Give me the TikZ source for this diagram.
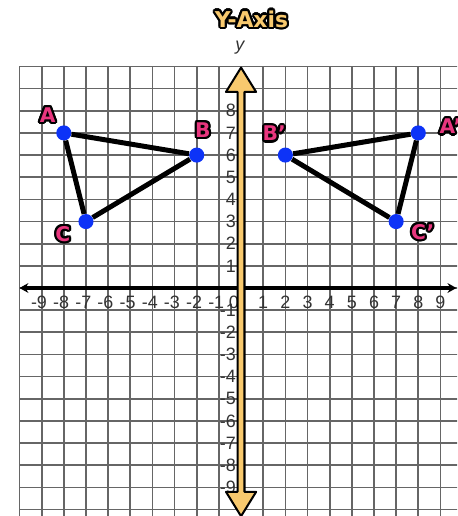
\documentclass[tikz,border=0pt]{standalone}
\usepackage{fontspec}
\setmainfont{Liberation Sans}
\newfontfamily\roundfont{DejaVu Sans}
\usetikzlibrary{arrows.meta}
\definecolor{GridGray}{HTML}{666666}
\definecolor{TickInk}{HTML}{333333}
\definecolor{AxisGold}{HTML}{F8C96E}
\definecolor{HotPink}{HTML}{E8367E}
\definecolor{DotBlue}{HTML}{0D33F7}
\newcommand\haloed[3][1.1pt]{\foreach \ang in {0,22.5,...,337.5}{\pgfmathsetlengthmacro\hdx{#1*cos(\ang)}\pgfmathsetlengthmacro\hdy{#1*sin(\ang)}\rlap{\hspace*{\hdx}\raisebox{\hdy}{\color{black}#3}}}{\color{#2}#3}}
\tikzset{gridline/.style={draw=GridGray,line width=1.1pt},tick/.style={text=TickInk,font=\fontsize{11.5}{13}\selectfont,inner sep=0pt},vertex/.style={circle,fill=DotBlue,minimum size=0.34cm,inner sep=0pt},side/.style={draw=black,line width=3.2pt},ptlabel/.style={font=\roundfont\bfseries\fontsize{13}{15}\selectfont,inner sep=0pt},xaxisline/.style={draw=black,line width=2pt,{Stealth[length=2mm,width=2.2mm]}-{Stealth[length=2mm,width=2.2mm]}},yaxisbody/.style={fill=AxisGold,draw=black,line width=1.3pt,line join=round}}

\begin{document}
\begin{tikzpicture}[x=0.5cm,y=0.5cm]
\useasboundingbox (-10.88,-10.29) rectangle (9.75,13.0);
\clip (-10.88,-10.29) rectangle (9.75,13.0);
\fill[white] (-10.88,-10.29) rectangle (9.75,13.0);
\draw[gridline,step=1] (-10,-11) grid (10,10);
\node[font=\roundfont\bfseries\fontsize{14}{16}\selectfont,inner sep=0pt] (title) at (0.47,12.14) {\haloed[1.4pt]{AxisGold}{Y-Axis}};
\node[font=\itshape\fontsize{11.5}{13}\selectfont,text=TickInk,inner sep=0pt] (ylab) at (-0.05,10.85) {y};
% tick labels
\foreach \k in {1,...,9} \node[tick] (xp\k) at (\k,-0.66) {\k};
\foreach \k in {1,...,9} \node[tick] (xm\k) at ({-\k-0.12},-0.66) {-\k};
\node[tick] (xz) at (-0.32,-0.66) {0};
\foreach \k in {1,...,8} \node[tick,anchor=east] (yp\k) at (-0.22,\k) {\k};
\foreach \k in {1,...,9} \node[tick,anchor=east] (ym\k) at (-0.22,-\k) {-\k};
% axes
\coordinate (xl) at (-10,0);\coordinate (xr) at (9.72,0);
\draw[xaxisline] (xl) -- (xr);
\draw[yaxisbody] (0,9.95)--(0.68,8.85)--(0.155,8.85)--(0.155,-9.2)--(0.68,-9.2)--(0,-10.3)--(-0.68,-9.2)--(-0.155,-9.2)--(-0.155,8.85)--(-0.68,8.85)--cycle;
% triangles
\node[vertex] (A) at (-8,7) {};\node[vertex] (B) at (-2,6) {};\node[vertex] (C) at (-7,3) {};
\node[vertex] (Ap) at (8,7) {};\node[vertex] (Bp) at (2,6) {};\node[vertex] (Cp) at (7,3) {};
\draw[side] (A) -- (B) -- (C) -- (A);
\draw[side] (Bp) -- (Ap) -- (Cp) -- (Bp);
\node[ptlabel] (lA) at (-8.73,7.81) {\haloed[1.4pt]{HotPink}{A}};
\node[ptlabel] (lB) at (-1.72,7.13) {\haloed[1.4pt]{HotPink}{B}};
\node[ptlabel] (lC) at (-8.04,2.44) {\haloed[1.4pt]{HotPink}{C}};
\node[ptlabel] (lBp) at (1.5,6.97) {\haloed[1.4pt]{HotPink}{B’}};
\node[ptlabel] (lAp) at (9.45,7.29) {\haloed[1.4pt]{HotPink}{A’}};
\node[ptlabel] (lCp) at (8.2,2.53) {\haloed[1.4pt]{HotPink}{C’}};
\end{tikzpicture}
\end{document}
